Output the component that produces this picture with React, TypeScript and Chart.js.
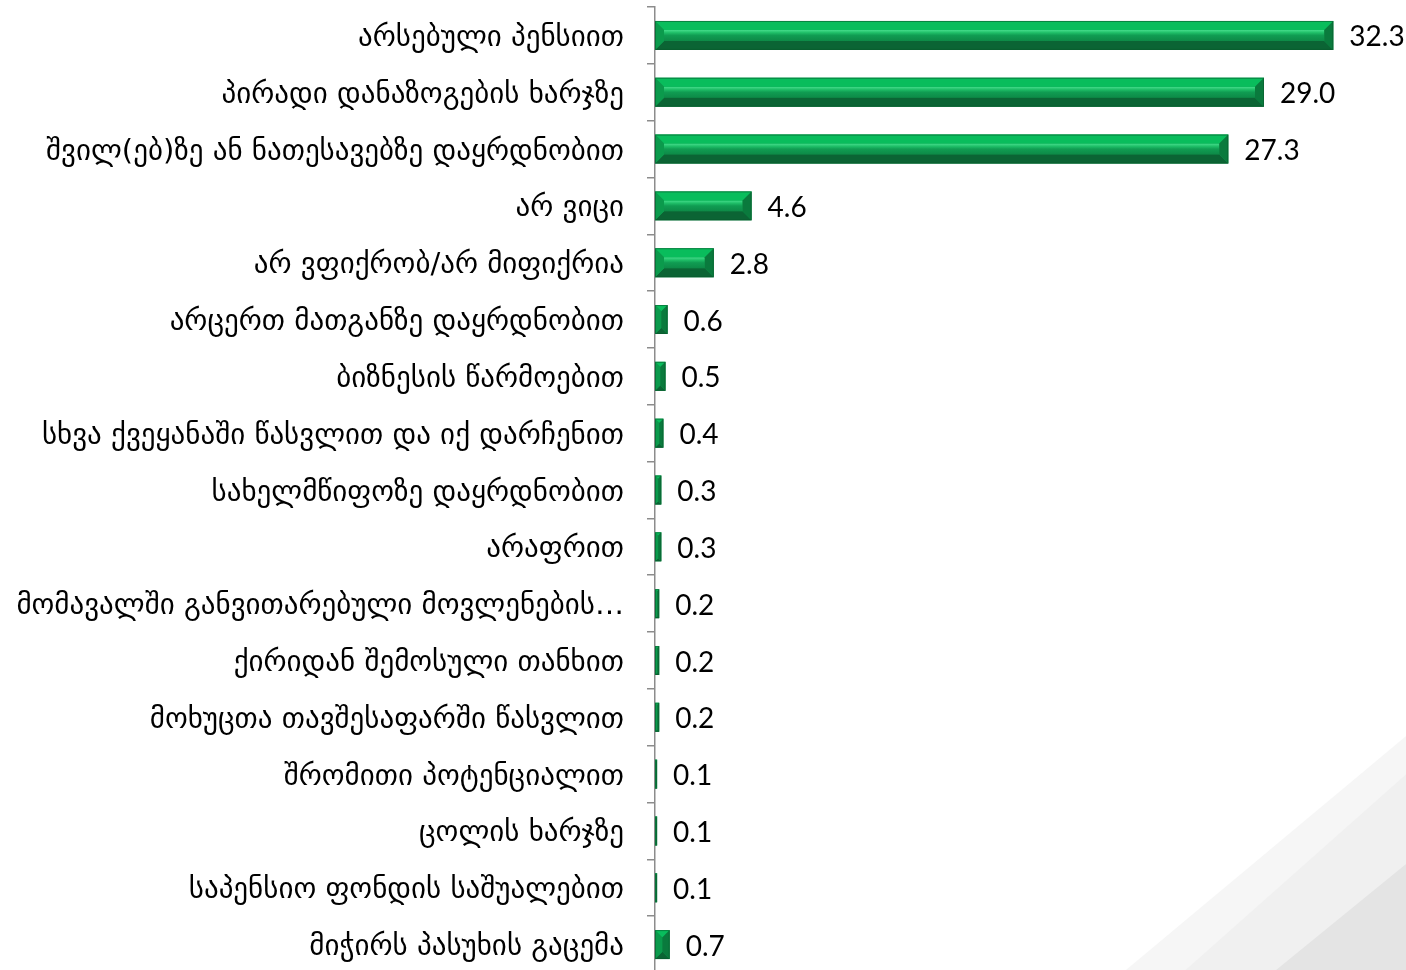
import { useEffect, useRef } from "react";
import { Chart, registerables } from "chart.js";

Chart.register(...registerables);

const categories = [
  "არსებული პენსიით",
  "პირადი დანაზოგების ხარჯზე",
  "შვილ(ებ)ზე ან ნათესავებზე დაყრდნობით",
  "არ ვიცი",
  "არ ვფიქრობ/არ მიფიქრია",
  "არცერთ მათგანზე დაყრდნობით",
  "ბიზნესის წარმოებით",
  "სხვა ქვეყანაში წასვლით და იქ დარჩენით",
  "სახელმწიფოზე დაყრდნობით",
  "არაფრით",
  "მომავალში განვითარებული მოვლენების…",
  "ქირიდან შემოსული თანხით",
  "მოხუცთა თავშესაფარში წასვლით",
  "შრომითი პოტენციალით",
  "ცოლის ხარჯზე",
  "საპენსიო ფონდის საშუალებით",
  "მიჭირს პასუხის გაცემა",
];

const values = [32.3, 29.0, 27.3, 4.6, 2.8, 0.6, 0.5, 0.4, 0.3, 0.3, 0.2, 0.2, 0.2, 0.1, 0.1, 0.1, 0.7];

const xMin = 0;
const xMax = 36;

export default function App() {
  const ref = useRef<HTMLCanvasElement>(null);

  useEffect(() => {
    document.body.style.margin = "0";
    document.body.style.overflow = "hidden";
    const canvas = ref.current!;

    const watermark = {
      id: "watermark",
      beforeDraw(chart: any) {
        const c = chart.ctx;
        c.save();
        c.fillStyle = "#ffffff";
        c.fillRect(0, 0, chart.width, chart.height);
        const poly = (pts: number[][], col: string) => {
          c.beginPath();
          c.moveTo(pts[0][0], pts[0][1]);
          for (let i = 1; i < pts.length; i++) c.lineTo(pts[i][0], pts[i][1]);
          c.closePath();
          c.fillStyle = col;
          c.fill();
        };
        poly([[1120, 975], [1411, 732], [1411, 975]], "#f6f6f6");
        poly([[1180, 975], [1411, 770], [1411, 975]], "#f0f0f0");
        poly([[1270, 975], [1411, 860], [1411, 975]], "#e4e4e4");
        c.restore();
      },
    };

    const bevel = {
      id: "bevel",
      afterDatasetsDraw(chart: any) {
        const c = chart.ctx;
        const meta = chart.getDatasetMeta(0);
        c.save();
        meta.data.forEach((bar: any) => {
          const p = bar.getProps(["x", "y", "base", "height"], true);
          const left = Math.min(p.base, p.x);
          const right = Math.max(p.base, p.x);
          const top = p.y - p.height / 2;
          const bottom = p.y + p.height / 2;
          const w = right - left;
          const b = Math.min(9, w / 2, p.height / 3);
          const poly = (pts: number[][], col: any) => {
            c.beginPath();
            c.moveTo(pts[0][0], pts[0][1]);
            for (let i = 1; i < pts.length; i++) c.lineTo(pts[i][0], pts[i][1]);
            c.closePath();
            c.fillStyle = col;
            c.fill();
          };
          const g = c.createLinearGradient(0, top + b, 0, bottom - b);
          g.addColorStop(0, "#46dd8c");
          g.addColorStop(0.25, "#1fbf68");
          g.addColorStop(0.5, "#109c52");
          g.addColorStop(1, "#0d8a47");
          poly([[left + b, top + b], [right - b, top + b], [right - b, bottom - b], [left + b, bottom - b]], g);
          poly([[left, top], [right, top], [right - b, top + b], [left + b, top + b]], "#09bd5c");
          poly([[left, bottom], [right, bottom], [right - b, bottom - b], [left + b, bottom - b]], "#0b6434");
          poly([[left, top], [left + b, top + b], [left + b, bottom - b], [left, bottom]], "#0b9a4c");
          poly([[right, top], [right - b, top + b], [right - b, bottom - b], [right, bottom]], "#0a7a3d");
          c.strokeStyle = "rgba(8,90,45,0.6)";
          c.lineWidth = 1;
          c.strokeRect(left + 0.5, top + 0.5, Math.max(w - 1, 0), p.height - 1);
        });
        c.restore();
      },
    };

    const valueLabels = {
      id: "valueLabels",
      afterDatasetsDraw(chart: any) {
        const c = chart.ctx;
        const meta = chart.getDatasetMeta(0);
        c.save();
        c.fillStyle = "#000000";
        c.font = "28px Lato";
        c.textAlign = "left";
        c.textBaseline = "middle";
        meta.data.forEach((bar: any, i: number) => {
          const p = bar.getProps(["x", "y"], true);
          c.fillText(values[i].toFixed(1), p.x + 16, p.y + 2);
        });
        c.restore();
      },
    };

    const chart = new Chart(canvas, {
      type: "bar",
      data: {
        labels: categories,
        datasets: [
          {
            data: values,
            backgroundColor: "#10a050",
            borderWidth: 0,
            categoryPercentage: 1,
            barPercentage: 0.51,
          },
        ],
      },
      options: {
        indexAxis: "y",
        animation: false,
        responsive: false,
        maintainAspectRatio: false,
        layout: { padding: { top: 7, bottom: 2, left: 0, right: 0 } },
        plugins: { legend: { display: false }, tooltip: { enabled: false } },
        scales: {
          x: { display: false, min: xMin, max: xMax },
          y: {
            afterFit(s: any) {
              s.width = 655;
              s.paddingTop = 0;
              s.paddingBottom = 0;
            },
            grid: {
              display: true,
              drawOnChartArea: false,
              drawTicks: true,
              tickLength: 8,
              color: "#8c8c8c",
              lineWidth: 1.5,
              offset: true,
            },
            border: { display: true, color: "#8c8c8c", width: 1.5 },
            ticks: {
              color: "#000000",
              font: { family: "DejaVu Sans", size: 29 },
              padding: 23,
              labelOffset: 3,
              autoSkip: false,
            },
          },
        },
      },
      plugins: [watermark, bevel, valueLabels],
    } as any);

    return () => chart.destroy();
  }, []);

  return (
    <div style={{ position: "fixed", left: 0, top: 0, width: 1411, height: 975 }}>
      <canvas ref={ref} width={1411} height={975} style={{ display: "block" }} />
    </div>
  );
}
